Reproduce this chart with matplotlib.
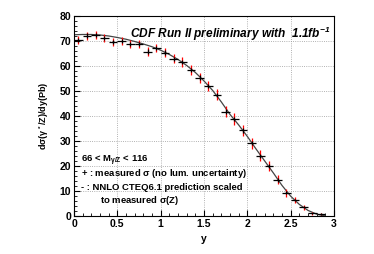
import numpy as np
from matplotlib import pyplot as plt

# measured points (bin centres, 0.1 wide)
y_bins = [0.05, 0.15, 0.25, 0.35, 0.45, 0.55, 0.65, 0.75, 0.85, 0.95,
          1.05, 1.15, 1.25, 1.35, 1.45, 1.55, 1.65, 1.75, 1.85, 1.95,
          2.05, 2.15, 2.25, 2.35, 2.45, 2.55, 2.65, 2.75, 2.85]
dsig = [70.4, 72.1, 72.4, 71.1, 69.5, 70.0, 68.8, 68.8, 65.7, 67.1,
        65.3, 62.8, 61.5, 58.4, 55.3, 52.0, 48.4, 41.7, 38.8, 34.2,
        29.1, 24.1, 20.0, 14.4, 9.3, 6.4, 3.5, 1.0, 0.8]
stat_err = [0.9, 0.9, 0.9, 0.9, 0.9, 0.9, 0.9, 0.9, 0.9, 0.9,
            0.9, 0.9, 0.9, 0.9, 0.9, 0.9, 0.9, 0.9, 0.9, 0.9,
            0.8, 0.8, 0.8, 0.7, 0.6, 0.5, 0.4, 0.3, 0.3]
tot_err = [1.6, 1.6, 1.6, 1.6, 1.6, 1.6, 1.6, 1.7, 1.7, 1.7,
           1.8, 1.8, 1.9, 2.0, 2.0, 2.1, 2.2, 2.3, 2.3, 2.3,
           2.2, 2.1, 2.0, 1.8, 1.6, 1.3, 1.0, 0.6, 0.5]

# NNLO prediction curve
y_th = [0.0, 0.1, 0.2, 0.3, 0.4, 0.5, 0.6, 0.7, 0.8, 0.9, 1.0, 1.1, 1.2, 1.3, 1.4,
        1.5, 1.6, 1.7, 1.8, 1.9, 2.0, 2.1, 2.2, 2.3, 2.4, 2.5, 2.6, 2.7, 2.8, 2.9]
dsig_th = [72.5, 72.6, 72.6, 72.4, 72.0, 71.4, 70.7, 69.8, 68.8, 67.7, 66.3, 64.6,
           62.6, 60.2, 57.4, 54.0, 50.2, 45.6, 40.6, 36.4, 31.8, 26.8, 22.0, 17.2,
           12.2, 7.9, 4.6, 2.2, 0.7, 0.0]

plt.rcParams['font.family'] = ['Liberation Sans', 'DejaVu Sans']
plt.rcParams['font.weight'] = 'bold'
plt.rcParams['mathtext.default'] = 'regular'

fig = plt.figure(figsize=(3.74, 2.54), dpi=100)
ax = fig.add_axes([0.198, 0.150, 0.695, 0.787])

ax.plot(y_th, dsig_th, color='#444444', lw=0.9, zorder=2)
ax.errorbar(y_bins, dsig, yerr=tot_err, fmt='none', ecolor='red', elinewidth=0.9, zorder=3)
ax.errorbar(y_bins, dsig, xerr=0.05, yerr=stat_err, fmt='none', ecolor='black', elinewidth=0.9, zorder=4)

ax.set_xlim(0, 3)
ax.set_ylim(0, 80)
ax.set_xticks([0, 0.5, 1, 1.5, 2, 2.5, 3])
ax.set_xticklabels(['0', '0.5', '1', '1.5', '2', '2.5', '3'])
ax.set_yticks(np.arange(0, 81, 10))
ax.set_xticks(np.arange(0, 3.01, 0.1), minor=True)
ax.set_yticks(np.arange(0, 81, 2), minor=True)
ax.tick_params(which='both', direction='in', labelsize=7.5, pad=2, top=False, right=False)
ax.tick_params(which='major', length=4)
ax.tick_params(which='minor', length=2)
ax.grid(True, which='major', linestyle=':', color='#999999', lw=0.6)
for s in ax.spines.values():
    s.set_linewidth(0.8)

ax.set_xlabel('y', fontsize=7.5, fontweight='bold', labelpad=4)
ax.set_ylabel(r'd$\sigma$($\gamma^*$/Z)/dy(Pb)', fontsize=6.5, fontweight='bold', labelpad=6)

ax.text(0.985, 0.955, r'CDF Run II preliminary with  1.1fb$^{-1}$', transform=ax.transAxes,
        ha='right', va='top', fontsize=8.6, fontweight='bold', style='italic')

ax.text(0.08, 21.5, r'66 < M$_{\gamma/Z}$ < 116', fontsize=6.8, fontweight='bold')
ax.text(0.08, 16, r'+ : measured $\sigma$ (no lum. uncertainty)', fontsize=6.8, fontweight='bold')
ax.text(0.08, 10.5, '- : NNLO CTEQ6.1 prediction scaled', fontsize=6.8, fontweight='bold')
ax.text(0.3, 5, r'to measured $\sigma$(Z)', fontsize=6.8, fontweight='bold')

fig.savefig('out.png', dpi=100)
